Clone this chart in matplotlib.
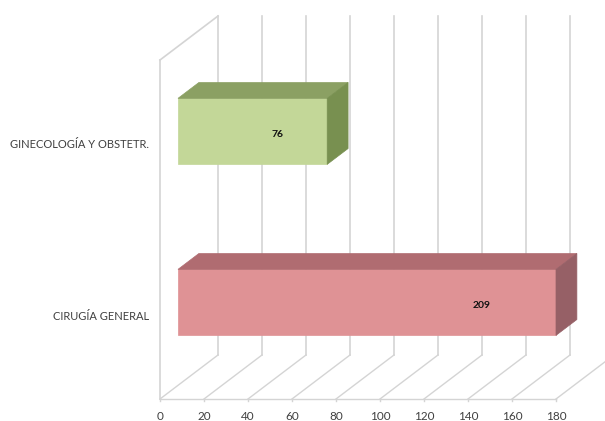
import matplotlib.pyplot as plt
from matplotlib.patches import Polygon

# data
categories = ['GINECOLOGÍA Y OBSTETR.', 'CIRUGÍA GENERAL']
values = [76, 209]
ticks = [0, 20, 40, 60, 80, 100, 120, 140, 160, 180]

# colours per bar: front, top, side
face_colors = [('#c3d798', '#8ba063', '#789050'),
               ('#df9295', '#b06c71', '#966066')]

# layout of the pseudo-3d box (x in axis units, y in points-ish units)
PX_PER_UNIT = 2.2
X0 = 160            # where 0 sits on the floor front edge
VMAX = 180
FLOOR_Y = 22
WALL_H = 339
DEPTH_DX = 58 / PX_PER_UNIT
DEPTH_DY = 44
BAR_FRONT = 0.31    # depth fraction of bar front face
BAR_DEPTH = 0.36    # depth fraction taken by the bar
BAR_HALF = 33
cat_y = [276, 105]  # category centres on the front plane

GRID = '#d4d4d4'
TXT = '#404040'

fig = plt.figure(figsize=(6.05, 4.21), dpi=100)
ax = fig.add_axes([0, 0, 1, 1])
ax.set_xlim(-X0 / PX_PER_UNIT, (605 - X0) / PX_PER_UNIT)
ax.set_ylim(0, 421)
ax.axis('off')

# floor, back wall and left wall
ax.plot([0, VMAX], [FLOOR_Y, FLOOR_Y], color=GRID, lw=1, zorder=1)
for t in ticks:
    ax.plot([t, t + DEPTH_DX], [FLOOR_Y, FLOOR_Y + DEPTH_DY], color=GRID, lw=1, zorder=1)
    ax.plot([t + DEPTH_DX, t + DEPTH_DX],
            [FLOOR_Y + DEPTH_DY, FLOOR_Y + DEPTH_DY + WALL_H], color=GRID, lw=1.2, zorder=1)
    ax.plot([t, t], [FLOOR_Y, FLOOR_Y - 2], color=GRID, lw=1, zorder=1)
    ax.text(t, 5, str(t), ha='center', va='center', fontsize=8.5, color=TXT, family='Lato')
ax.plot([0, 0], [FLOOR_Y, FLOOR_Y + WALL_H], color=GRID, lw=1.2, zorder=1)
ax.plot([0, DEPTH_DX], [FLOOR_Y + WALL_H, FLOOR_Y + WALL_H + DEPTH_DY], color=GRID, lw=1.2, zorder=1)

# bars
off_x = BAR_FRONT * DEPTH_DX
off_y = BAR_FRONT * DEPTH_DY
bdx = BAR_DEPTH * DEPTH_DX
bdy = BAR_DEPTH * DEPTH_DY
for cat, v, yc, (c_front, c_top, c_side) in zip(categories, values, cat_y, face_colors):
    xl = off_x
    xr = min(v, VMAX)
    yb = yc + off_y - BAR_HALF
    yt = yc + off_y + BAR_HALF
    front = Polygon([(xl, yb), (xr, yb), (xr, yt), (xl, yt)], closed=True,
                    facecolor=c_front, edgecolor=c_front, lw=0.5, zorder=3)
    top = Polygon([(xl, yt), (xr, yt), (xr + bdx, yt + bdy), (xl + bdx, yt + bdy)], closed=True,
                  facecolor=c_top, edgecolor=c_top, lw=0.5, zorder=3)
    side = Polygon([(xr, yb), (xr, yt), (xr + bdx, yt + bdy), (xr + bdx, yb + bdy)], closed=True,
                   facecolor=c_side, edgecolor=c_side, lw=0.5, zorder=3)
    for p in (front, top, side):
        ax.add_patch(p)
    ax.text(v * 0.7, yc + off_y - 3, str(v), ha='center', va='center',
            fontsize=7.5, fontweight='bold', color='#111111', family='Lato', zorder=4)
    ax.text(-5, yc, cat, ha='right', va='center', fontsize=8, color=TXT, family='Lato')

fig.savefig('out.png', dpi=100)
